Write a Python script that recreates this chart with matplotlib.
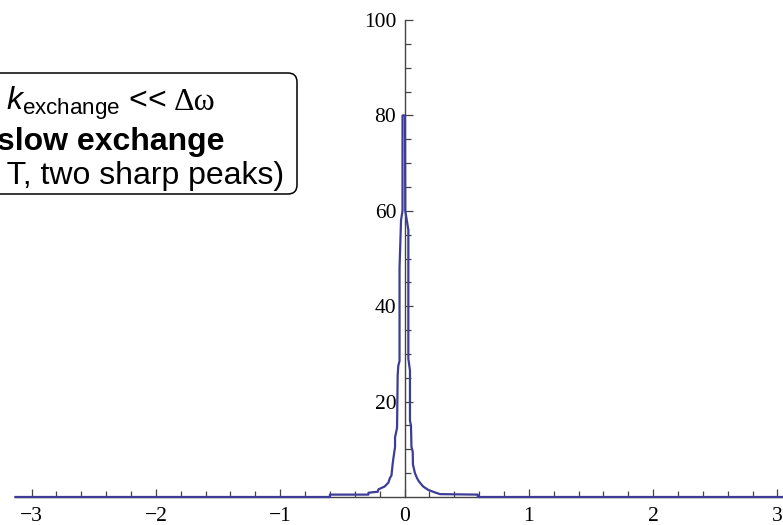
import matplotlib
matplotlib.use("Agg")
import matplotlib.pyplot as plt
from matplotlib.patches import FancyBboxPatch
import numpy as np

# points (jagged Lorentzian-like peak)
x_pts = [-3.13, -0.60, -0.60, -0.29, -0.29, -0.215, -0.21, -0.16, -0.13, -0.117,
         -0.105, -0.095, -0.09, -0.076, -0.076, -0.060, -0.055, -0.050, -0.040,
         -0.040, -0.028, -0.016, -0.016, 0.004,
         0.006, 0.031, 0.031, 0.044, 0.044, 0.052, 0.056, 0.066, 0.068, 0.084,
         0.10, 0.115, 0.15, 0.19, 0.24, 0.286, 0.59, 0.59, 3.05]
y_pts = [0, 0, 0.5, 0.5, 0.9, 1.1, 1.6, 2.2, 3.0, 4.0,
         4.5, 7.0, 8.0, 10.5, 12.5, 14.5, 25.5, 27.5, 28.5,
         48, 58, 60, 80, 80,
         60, 56, 29, 26.5, 16, 15, 10.5, 9.5, 6.8, 5.0,
         4.0, 3.3, 2.2, 1.5, 1.0, 0.6, 0.5, 0, 0]

x_major = [-3, -2, -1, 0, 1, 2, 3]
y_major = [20, 40, 60, 80, 100]

line1_a = r"$k_{\mathrm{exchange}}$ <<"
line1_b = "Δω"
line2 = "slow exchange"
line3 = "(long T, two sharp peaks)"

plt.rcParams['mathtext.fontset'] = 'custom'
plt.rcParams['mathtext.rm'] = 'Liberation Sans'
plt.rcParams['mathtext.it'] = 'Liberation Sans:italic'

W, H = 783, 525
fig = plt.figure(figsize=(W / 100, H / 100), dpi=100)
ax = fig.add_axes([15 / W, 28 / H, 768 / W, 477 / H])

ax.plot(x_pts, y_pts, color='#3d3d99', lw=1.6, zorder=3, clip_on=False)
ax.set_xlim(-3.1335, 3.045)
ax.set_ylim(0, 100)

for s in ['top', 'right']:
    ax.spines[s].set_visible(False)
ax.spines['left'].set_position(('data', 0))
for s in ['left', 'bottom']:
    ax.spines[s].set_color('#444444')
    ax.spines[s].set_linewidth(1.0)

ax.set_xticks(x_major)
ax.set_xticks(np.arange(-2.8, 3.0, 0.2), minor=True)
ax.set_yticks(y_major)
ax.set_yticks(np.arange(5, 100, 5), minor=True)
ax.set_xticklabels([f"{v}".replace('-', '\u2212') for v in x_major])

ax.tick_params(which='both', direction='in', color='#444444', width=0.9)
ax.tick_params(which='major', length=6)
ax.tick_params(which='minor', length=4)
ax.tick_params(axis='x', pad=7)
ax.tick_params(axis='y', pad=6)
for lab in ax.get_xticklabels() + ax.get_yticklabels():
    lab.set_fontfamily('Liberation Serif')
    lab.set_fontsize(15.5)

# rounded annotation box, partly off the left edge
box = FancyBboxPatch((-80, H - 194), 377, 121,
                     boxstyle='round,pad=0,rounding_size=9',
                     transform=None, facecolor='white', edgecolor='black',
                     lw=1.1)
fig.patches.append(box)

cx = 111
fs = 23
r = fig.canvas.get_renderer()
ta = fig.text(0, 1 - 110 / H, line1_a, ha='left', va='baseline',
              fontsize=fs, family='Liberation Sans')
tb = fig.text(0, 1 - 110 / H, line1_b, ha='left', va='baseline',
              fontsize=fs, family='Liberation Serif')
wa = ta.get_window_extent(r).width
wb = tb.get_window_extent(r).width
gap = 7
x0 = cx - (wa + gap + wb) / 2
ta.set_x(x0 / W)
tb.set_x((x0 + wa + gap) / W)

fig.text(cx / W, 1 - 150 / H, line2, ha='center', va='baseline',
         fontsize=fs, family='Liberation Sans', fontweight='bold')
fig.text(284 / W, 1 - 184 / H, line3, ha='right', va='baseline',
         fontsize=fs, family='Liberation Sans')

fig.savefig("out.png", dpi=100)
